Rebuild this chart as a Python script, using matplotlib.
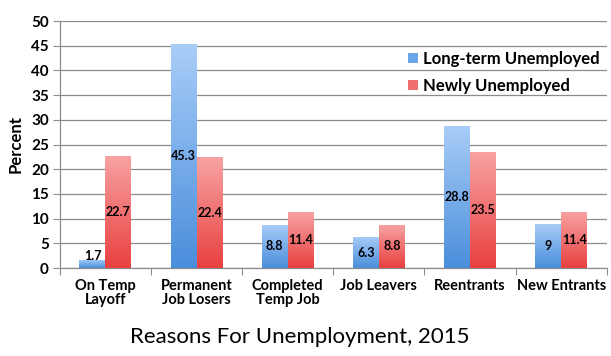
import numpy as np
import matplotlib
matplotlib.use("Agg")
import matplotlib.pyplot as plt
from matplotlib.colors import LinearSegmentedColormap

categories = ["On Temp\nLayoff", "Permanent\nJob Losers", "Completed\nTemp Job",
              "Job Leavers", "Reentrants", "New Entrants"]
long_term = [1.7, 45.3, 8.8, 6.3, 28.8, 9]
newly = [22.7, 22.4, 11.4, 8.8, 23.5, 11.4]
series_names = ["Long-term Unemployed", "Newly Unemployed"]
title = "Reasons For Unemployment, 2015"

plt.rcParams['font.family'] = ['Lato', 'DejaVu Sans']

fig = plt.figure(figsize=(6.11, 3.56), dpi=100)
ax = fig.add_axes([0.098, 0.247, 0.895, 0.694])

x = np.arange(len(categories))
w = 0.285
blue_cmap = LinearSegmentedColormap.from_list("b", ["#4a8edb", "#a9cdf8"])
red_cmap = LinearSegmentedColormap.from_list("r", ["#e8403f", "#f8a3a3"])
grad = np.linspace(0, 1, 256).reshape(-1, 1)

ax.set_xlim(-0.5, len(categories) - 0.5)
ax.set_ylim(0, 50)
ax.set_yticks(range(0, 51, 5))
ax.grid(axis='y', color='#8c8c8c', linewidth=0.9)
ax.set_axisbelow(True)

def draw(vals, offset, cmap, color):
    bars = ax.bar(x + offset, vals, width=w, color=color, zorder=2)
    for b, v in zip(bars, vals):
        bx, by = b.get_x(), b.get_y()
        bw, bh = b.get_width(), b.get_height()
        im = ax.imshow(grad, extent=[bx, bx + bw, by, by + bh], origin='lower',
                       cmap=cmap, aspect='auto', zorder=3)
        im.set_clip_path(b)
        ypos = max(v / 2, 2.4)
        ax.text(bx + bw / 2, ypos, f"{v:g}", ha='center', va='center',
                fontsize=9, fontweight='bold', color='black', zorder=4)
    return bars

b1 = draw(long_term, -w / 2, blue_cmap, "#6ba6e8")
b2 = draw(newly, w / 2, red_cmap, "#f07070")

for s in ['top', 'right']:
    ax.spines[s].set_visible(False)
for s in ['left', 'bottom']:
    ax.spines[s].set_color('#8c8c8c')
    ax.spines[s].set_linewidth(0.9)

ax.set_xticks(np.arange(len(categories) + 1) - 0.5)
ax.set_xticklabels([])
ax.set_xticks(x, minor=True)
ax.set_xticklabels(categories, minor=True, fontsize=10.5, fontweight='bold',
                   linespacing=1.0)
ax.tick_params(axis='x', which='minor', length=0, pad=8)
ax.tick_params(axis='x', which='major', length=5, color='#8c8c8c')
ax.tick_params(axis='y', length=5, color='#8c8c8c', labelsize=11, pad=3)
for lbl in ax.get_yticklabels():
    lbl.set_fontweight('bold')

ax.set_ylabel("Percent", fontsize=12, fontweight='bold', labelpad=5)

leg = ax.legend([b1, b2], series_names, loc='upper left',
                bbox_to_anchor=(0.61, 0.94), frameon=False,
                prop={'size': 12, 'weight': 'bold'},
                handlelength=0.55, handleheight=0.55, handletextpad=0.3,
                labelspacing=0.65)

fig.text(0.491, 0.053, title, ha='center', va='center', fontsize=16)

fig.savefig("out.png", dpi=100)
